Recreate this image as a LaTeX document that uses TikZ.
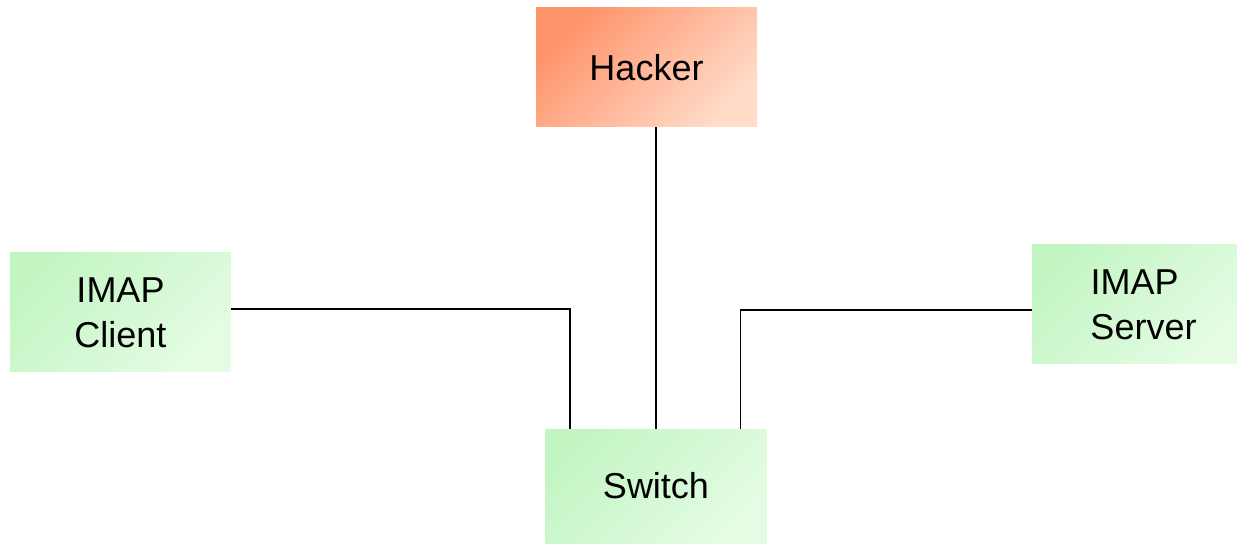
\documentclass[tikz,border=0pt]{standalone}
\usepackage{fontspec}
\setmainfont{Liberation Sans}
\usetikzlibrary{calc}
\definecolor{hackdark}{HTML}{FF936A}
\definecolor{hacklight}{HTML}{FFDBC8}
\definecolor{netdark}{HTML}{C3F5C3}
\definecolor{netlight}{HTML}{E4FCE4}
\tikzset{
  box/.style={inner sep=0pt, align=center, font=\fontsize{36}{45}\selectfont,
    text=black},
  hackbox/.style={box, top color=hackdark, bottom color=hacklight, shading angle=45},
  netbox/.style={box, top color=netdark, bottom color=netlight, shading angle=45},
  wire/.style={draw=black, line width=1.4pt}
}
\begin{document}
\begin{tikzpicture}[x=1pt,y=1pt]
  \useasboundingbox (0,0) rectangle (1237,544);
  \node[hackbox, minimum width=221pt, minimum height=119pt] (hacker) at (646.5,476.5) {Hacker};
  \node[netbox, minimum width=221pt, minimum height=119pt] (client) at (120.5,231.5) {IMAP\\Client};
  \node[netbox, minimum width=205pt, minimum height=119pt] (server) at (1134.5,239.5) {IMAP\\\hspace*{18pt}Server};
  \node[netbox, minimum width=221pt, minimum height=114pt] (switch) at (656,58) {\raisebox{-4pt}{Switch}};
  \coordinate (swl) at ($(switch.north west)+(24.5,0)$);
  \coordinate (swr) at ($(switch.north east)+(-26.5,0)$);
  \draw[wire] (switch.north |- hacker.south) -- (switch.north);
  \draw[wire] ([yshift=3.5pt]client.east) -| (swl);
  \draw[wire] ([yshift=-5.5pt]server.west) -| (swr);
\end{tikzpicture}
\end{document}
